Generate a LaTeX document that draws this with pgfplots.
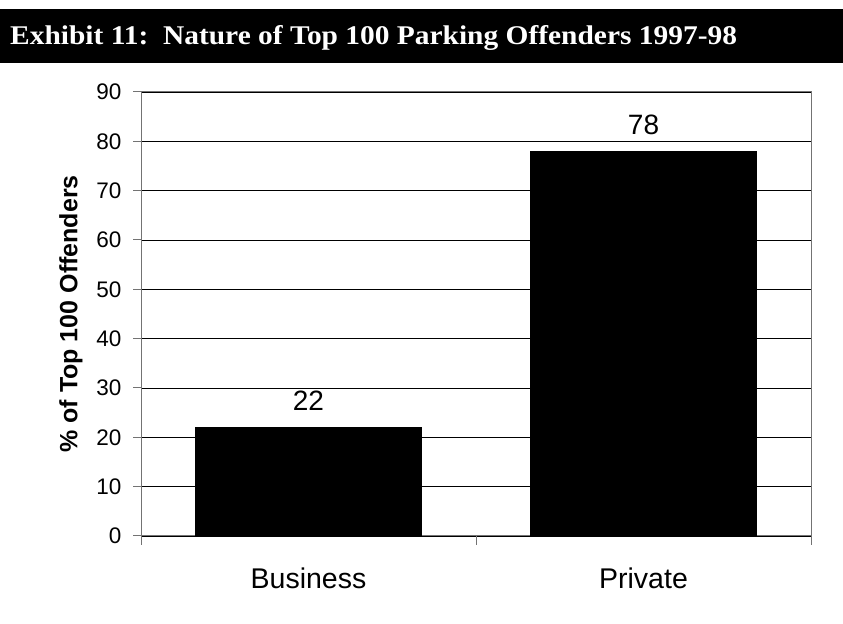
\documentclass[border=0pt]{standalone}
\usepackage{fontspec}
\setmainfont{Liberation Sans}
\newfontfamily\titlefont{Liberation Serif}
\usepackage{pgfplots}
\pgfplotsset{compat=1.18}

\begin{document}
\begin{tikzpicture}
	% page frame and title bar
	\fill[white] (0bp,0bp) rectangle (843bp,624bp);
	\fill[black] (0bp,561bp) rectangle (843bp,615bp);
	\node[anchor=base west, inner sep=0pt, text=white, xscale=1.09, font=\titlefont\bfseries\fontsize{27bp}{30bp}\selectfont]
		at (10bp,579bp) {Exhibit 11:\, Nature of Top 100 Parking Offenders 1997-98};
	\begin{axis}[
		at={(141bp,88bp)}, anchor=south west,
		width=670bp, height=444bp,
		scale only axis,
		xmin=0, xmax=2,
		ymin=0, ymax=90,
		xtick={0.5,1.5},
		xticklabels={Business, Private},
		minor xtick={0,1,2},
		ytick distance=10,
		major x tick style={draw=none},
		tick align=outside,
		major tick length=8bp,
		minor tick length=9bp,
		tick pos=left,
		ymajorgrids=true,
		grid style={black, line width=0.8bp},
		axis line style={black!55, line width=1bp},
		tick style={black!55, line width=1bp},
		/pgf/number format/assume math mode=true,
		yticklabel style={font=\fontsize{22.5bp}{26bp}\selectfont, xshift=-8bp},
		xticklabel style={font=\fontsize{28.5bp}{34bp}\selectfont, yshift=-20bp},
		ylabel={\% of Top 100 Offenders},
		ylabel style={font=\bfseries\fontsize{25bp}{28bp}\selectfont, yshift=7bp},
		nodes near coords,
		nodes near coords style={font=\fontsize{28bp}{34bp}\selectfont, anchor=base, yshift=17bp},
		]
		\addplot[ybar, fill=black, draw=black, bar width=0.675] coordinates {
			(0.5, 22)
			(1.5, 78)
		};
	\end{axis}
\end{tikzpicture}
\end{document}
